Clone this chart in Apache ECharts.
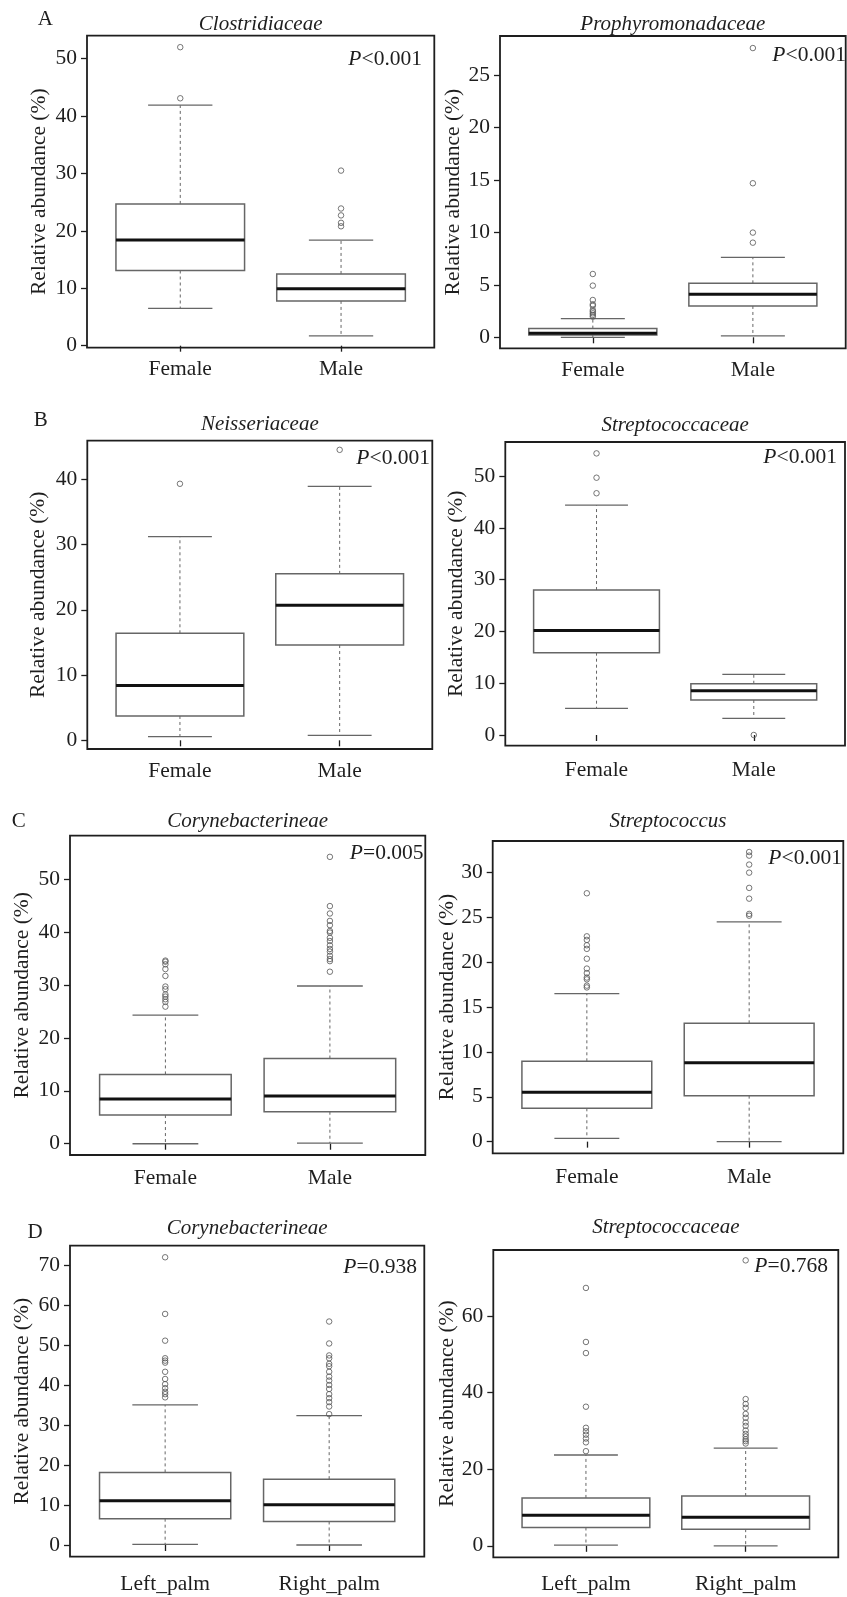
<!DOCTYPE html>
<html>
<head>
<meta charset="utf-8">
<title>Relative abundance boxplots</title>
<script src="https://cdn.jsdelivr.net/npm/echarts@6/dist/echarts.min.js"></script>
<style>
  html, body { margin: 0; padding: 0; background: #fff; }
  #main { width: 847px; height: 1597px; }
</style>
</head>
<body>
<div id="main"></div>
<script>
// x axis groups
var sexGroups = ['Female', 'Male'];
var palmGroups = ['Left_palm', 'Right_palm'];

// box stats per group: [lower whisker, Q1, median, Q3, upper whisker]
// A
var clostridiaceaeBox = [[6.5, 13.1, 18.4, 24.7, 41.9], [1.7, 7.8, 9.9, 12.5, 18.4]];
var clostridiaceaeOut = [[52.0, 43.1], [30.5, 23.9, 22.7, 21.4, 20.8]];
var clostridiaceaeTicks = [0, 10, 20, 30, 40, 50];

var prophyroBox = [[0.0, 0.22, 0.38, 0.83, 1.78], [0.13, 2.99, 4.10, 5.15, 7.63]];
var prophyroOut = [[6.04, 4.93, 3.56, 3.15, 3.0, 2.6, 2.45, 2.29, 2.13, 1.97], [27.6, 14.7, 9.99, 9.03]];
var prophyroTicks = [0, 5, 10, 15, 20, 25];

// B
var neisseriaceaeBox = [[0.56, 3.73, 8.38, 16.4, 31.2], [0.77, 14.6, 20.7, 25.5, 38.9]];
var neisseriaceaeOut = [[39.3], [44.5]];
var neisseriaceaeTicks = [0, 10, 20, 30, 40];

var streptoSexBox = [[5.15, 15.9, 20.2, 28.0, 44.4], [3.2, 6.76, 8.56, 9.9, 11.7]];
var streptoSexOut = [[54.4, 49.7, 46.7], [0.0]];
var streptoSexTicks = [0, 10, 20, 30, 40, 50];

// C
var corynSexBox = [[0.0, 5.42, 8.44, 13.1, 24.3], [0.13, 6.05, 9.0, 16.1, 29.8]];
var corynSexOut = [
  [34.6, 34.4, 33.9, 33.0, 31.7, 29.7, 29.2, 28.2, 27.8, 27.3, 26.8, 25.9],
  [54.2, 44.9, 43.5, 42.1, 41.3, 40.2, 39.9, 38.9, 38.3, 37.5, 36.8, 36.3, 35.5, 34.9, 34.5, 32.5]
];
var corynSexTicks = [0, 10, 20, 30, 40, 50];

var streptococcusBox = [[0.37, 3.72, 5.5, 8.96, 16.5], [0.0, 5.13, 8.81, 13.2, 24.5]];
var streptococcusOut = [
  [27.7, 22.9, 22.5, 21.9, 21.5, 20.4, 19.3, 18.8, 18.3, 18.1, 17.4, 17.2],
  [32.3, 31.9, 30.9, 30.0, 28.3, 27.1, 25.4, 25.2]
];
var streptococcusTicks = [0, 5, 10, 15, 20, 25, 30];

// D
var corynPalmBox = [[0.17, 6.6, 11.1, 18.2, 35.1], [0.0, 5.9, 10.1, 16.5, 32.4]];
var corynPalmOut = [
  [72.1, 57.9, 51.2, 46.8, 46.2, 45.7, 43.4, 41.6, 40.3, 39.3, 38.4, 37.8, 37.0],
  [56.0, 50.5, 47.5, 46.8, 45.4, 44.8, 43.4, 42.2, 41.2, 40.1, 39.1, 37.8, 36.8, 35.8, 34.7, 32.8]
];
var corynPalmTicks = [0, 10, 20, 30, 40, 50, 60, 70];

var streptoPalmBox = [[0.17, 4.78, 8.0, 12.5, 23.7], [0.0, 4.35, 7.48, 13.0, 25.5]];
var streptoPalmOut = [
  [67.3, 53.2, 50.3, 36.3, 30.8, 29.9, 29.0, 28.0, 27.0, 24.7],
  [74.5, 38.3, 37.0, 36.0, 34.4, 33.4, 32.2, 31.3, 30.1, 29.2, 28.5, 27.8, 27.3, 26.7]
];
var streptoPalmTicks = [0, 20, 40, 60];

// panel layout (box = plot frame in px)
var panels = [
  { name: 'Clostridiaceae', groups: sexGroups, stats: clostridiaceaeBox, out: clostridiaceaeOut, ticks: clostridiaceaeTicks,
    p: '<0.001', yRange: [-0.35, 54.0], box: [87, 35.7, 347.3, 312], titleY: 24, pPos: [422, 59], yTitleX: 39.5, xMargin: 11 },
  { name: 'Prophyromonadaceae', groups: sexGroups, stats: prophyroBox, out: prophyroOut, ticks: prophyroTicks,
    p: '<0.001', yRange: [-1.05, 28.75], box: [500, 36, 345.7, 312.3], titleY: 24, pPos: [846, 55], yTitleX: 453.5, xMargin: 11 },
  { name: 'Neisseriaceae', groups: sexGroups, stats: neisseriaceaeBox, out: neisseriaceaeOut, ticks: neisseriaceaeTicks,
    p: '<0.001', yRange: [-1.33, 45.9], box: [87.3, 440.7, 345, 308.3], titleY: 424.5, pPos: [430, 458.5], yTitleX: 38.5, xMargin: 11 },
  { name: 'Streptococcaceae', groups: sexGroups, stats: streptoSexBox, out: streptoSexOut, ticks: streptoSexTicks,
    p: '<0.001', yRange: [-2.07, 56.6], box: [505.3, 442, 339.7, 303.7], titleY: 425, pPos: [837, 457.5], yTitleX: 456.5, xMargin: 14 },
  { name: 'Corynebacterineae', groups: sexGroups, stats: corynSexBox, out: corynSexOut, ticks: corynSexTicks,
    p: '=0.005', yRange: [-2.13, 58.2], box: [70, 835.7, 355.3, 319.3], titleY: 821.7, pPos: [423.5, 853.3], yTitleX: 22, xMargin: 12 },
  { name: 'Streptococcus', groups: sexGroups, stats: streptococcusBox, out: streptococcusOut, ticks: streptococcusTicks,
    p: '<0.001', yRange: [-1.3, 33.53], box: [492.7, 841, 350.6, 312.3], titleY: 821.7, pPos: [842, 858.3], yTitleX: 447.5, xMargin: 13 },
  { name: 'Corynebacterineae', groups: palmGroups, stats: corynPalmBox, out: corynPalmOut, ticks: corynPalmTicks,
    p: '=0.938', yRange: [-2.93, 75.0], box: [70, 1245.7, 354.3, 311], titleY: 1228.3, pPos: [417, 1267.5], yTitleX: 22.5, xMargin: 17 },
  { name: 'Streptococcaceae', groups: palmGroups, stats: streptoPalmBox, out: streptoPalmOut, ticks: streptoPalmTicks,
    p: '=0.768', yRange: [-3.0, 77.2], box: [493.3, 1250, 345, 307.3], titleY: 1227.7, pPos: [828, 1266.7], yTitleX: 447, xMargin: 16 }
];

var letters = [['A', 45.3, 19.5], ['B', 40.8, 420.3], ['C', 18.8, 821], ['D', 35, 1232]];

var FONT = '"Liberation Serif", "Times New Roman", serif';
var INK = '#1e1e1e';
var GREY = '#666';

// R style boxplot: box width 0.8, staple 0.4, dashed whiskers
function renderBox(params, api) {
  var x = api.value(0);
  var lo = api.coord([x, api.value(1)]);
  var q1 = api.coord([x - 0.4, api.value(2)]);
  var med = api.coord([x + 0.4, api.value(3)]);
  var q3 = api.coord([x + 0.4, api.value(4)]);
  var hi = api.coord([x, api.value(5)]);
  var sL = api.coord([x - 0.2, 0])[0];
  var sR = api.coord([x + 0.2, 0])[0];
  var dash = { stroke: GREY, lineWidth: 1, lineDash: [3, 3] };
  var solid = { stroke: GREY, lineWidth: 1.3 };
  return {
    type: 'group',
    children: [
      { type: 'line', shape: { x1: hi[0], y1: q3[1], x2: hi[0], y2: hi[1] }, style: dash },
      { type: 'line', shape: { x1: lo[0], y1: q1[1], x2: lo[0], y2: lo[1] }, style: dash },
      { type: 'line', shape: { x1: sL, y1: hi[1], x2: sR, y2: hi[1] }, style: solid },
      { type: 'line', shape: { x1: sL, y1: lo[1], x2: sR, y2: lo[1] }, style: solid },
      { type: 'rect', shape: { x: q1[0], y: q3[1], width: q3[0] - q1[0], height: q1[1] - q3[1] },
        style: { fill: '#fff', stroke: GREY, lineWidth: 1.5 } },
      { type: 'line', shape: { x1: q1[0], y1: med[1], x2: med[0], y2: med[1] }, style: { stroke: '#111', lineWidth: 3 } }
    ]
  };
}

var grids = [], xAxes = [], yAxes = [], series = [], graphics = [];

panels.forEach(function (p, i) {
  grids.push({
    left: p.box[0], top: p.box[1], width: p.box[2], height: p.box[3],
    show: true, borderColor: INK, borderWidth: 1.8, backgroundColor: '#fff',
    outerBoundsMode: 'none'
  });
  xAxes.push({
    gridIndex: i, type: 'value', min: 0.42, max: 2.58,
    axisLine: { show: false }, splitLine: { show: false },
    axisTick: { show: true, customValues: [1, 2], length: 6, lineStyle: { color: INK, width: 1.3 } },
    axisLabel: {
      customValues: [1, 2], margin: p.xMargin, fontSize: 21.5, fontFamily: FONT, color: INK,
      formatter: function (v) { return p.groups[Math.round(v) - 1]; }
    }
  });
  yAxes.push({
    gridIndex: i, type: 'value', min: p.yRange[0], max: p.yRange[1],
    axisLine: { show: false }, splitLine: { show: false },
    axisTick: { show: true, customValues: p.ticks, length: 6, lineStyle: { color: INK, width: 1.3 } },
    axisLabel: { customValues: p.ticks, margin: 10, fontSize: 21.5, fontFamily: FONT, color: INK }
  });
  series.push({
    type: 'custom', xAxisIndex: i, yAxisIndex: i, silent: true, z: 2,
    encode: { x: 0, y: [1, 2, 3, 4, 5] },
    data: p.stats.map(function (s, k) { return [k + 1].concat(s); }),
    renderItem: renderBox
  });
  var pts = [];
  p.out.forEach(function (vals, k) {
    vals.forEach(function (v) { pts.push([k + 1, v]); });
  });
  series.push({
    type: 'scatter', xAxisIndex: i, yAxisIndex: i, silent: true, z: 3,
    symbol: 'circle', symbolSize: 5.5,
    itemStyle: { color: 'rgba(0,0,0,0)', borderColor: '#555', borderWidth: 1 },
    data: pts
  });

  var cx = p.box[0] + p.box[2] / 2;
  var cy = p.box[1] + p.box[3] / 2;
  graphics.push({
    type: 'text', x: cx, y: p.titleY,
    style: { text: p.name, font: 'italic 21px ' + FONT, fill: INK, align: 'center', verticalAlign: 'middle' }
  });
  graphics.push({
    type: 'text', x: p.pPos[0], y: p.pPos[1],
    style: {
      text: '{i|P}{n|' + p.p + '}', font: '21px ' + FONT, fill: INK, align: 'right', verticalAlign: 'middle',
      rich: {
        i: { fontStyle: 'italic', fontSize: 21.5, fontFamily: FONT, fill: INK },
        n: { fontSize: 21.5, fontFamily: FONT, fill: INK }
      }
    }
  });
  graphics.push({
    type: 'text', x: p.yTitleX, y: cy, rotation: Math.PI / 2,
    style: { text: 'Relative abundance (%)', font: '21.5px ' + FONT, fill: INK, align: 'center', verticalAlign: 'middle' }
  });
});

letters.forEach(function (l) {
  graphics.push({
    type: 'text', x: l[1], y: l[2],
    style: { text: l[0], font: '21px ' + FONT, fill: INK, align: 'center', verticalAlign: 'middle' }
  });
});

var myChart = echarts.init(document.getElementById('main'));
myChart.setOption({
  animation: false,
  backgroundColor: '#fff',
  grid: grids,
  xAxis: xAxes,
  yAxis: yAxes,
  series: series,
  graphic: graphics
});
</script>
</body>
</html>
